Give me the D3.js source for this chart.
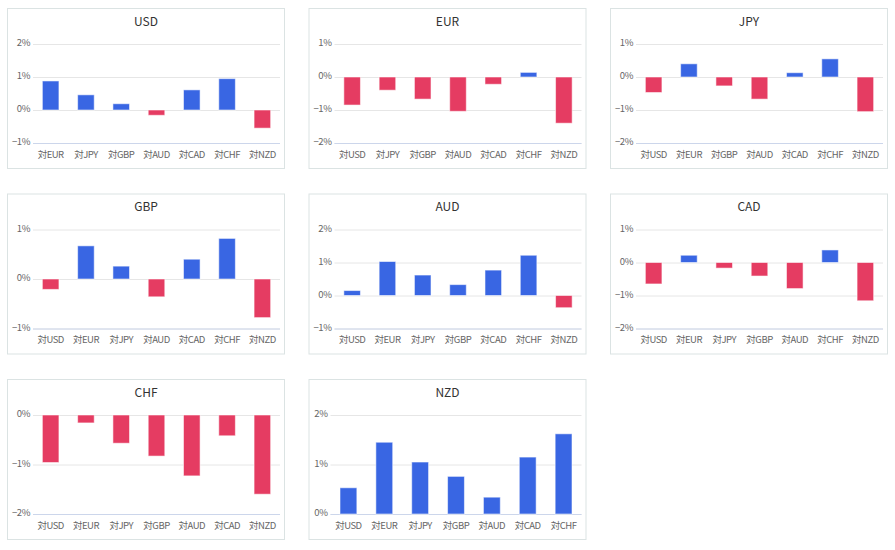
<!DOCTYPE html>
<html>
<head>
<meta charset="utf-8">
<script src="https://cdn.jsdelivr.net/npm/d3@7/dist/d3.min.js"></script>
<style>
  html, body { margin: 0; padding: 0; background: #fff; }
  svg { display: block; font-family: "Noto Sans CJK JP", "Noto Sans", sans-serif; }
</style>
</head>
<body>
<svg id="chart" width="895" height="550"></svg>
<script>
// ---- Data ----
const currencies = ["USD", "EUR", "JPY", "GBP", "AUD", "CAD", "CHF", "NZD"];
const catPrefix = "対";

const usdValues = [0.88, 0.46, 0.19, -0.16, 0.61, 0.95, -0.55];
const eurValues = [-0.85, -0.40, -0.67, -1.04, -0.22, 0.14, -1.40];
const jpyValues = [-0.47, 0.40, -0.27, -0.67, 0.13, 0.55, -1.05];
const gbpValues = [-0.21, 0.67, 0.26, -0.36, 0.40, 0.82, -0.78];
const audValues = [0.15, 1.03, 0.62, 0.33, 0.77, 1.22, -0.37];
const cadValues = [-0.65, 0.22, -0.17, -0.41, -0.79, 0.38, -1.16];
const chfValues = [-0.96, -0.16, -0.57, -0.83, -1.23, -0.42, -1.60];
const nzdValues = [0.53, 1.45, 1.05, 0.76, 0.34, 1.15, 1.62];

const usdTicks = [-1, 0, 1, 2];
const eurTicks = [-2, -1, 0, 1];
const jpyTicks = [-2, -1, 0, 1];
const gbpTicks = [-1, 0, 1];
const audTicks = [-1, 0, 1, 2];
const cadTicks = [-2, -1, 0, 1];
const chfTicks = [-2, -1, 0];
const nzdTicks = [0, 1, 2];

const valuesByCurrency = [usdValues, eurValues, jpyValues, gbpValues, audValues, cadValues, chfValues, nzdValues];
const ticksByCurrency = [usdTicks, eurTicks, jpyTicks, gbpTicks, audTicks, cadTicks, chfTicks, nzdTicks];

const positiveColor = "#3966e3";
const negativeColor = "#e53c62";

// ---- Layout ----
const svg = d3.select("#chart");
const panelW = 277, panelH = 160;
const colStep = 301.5, rowStep = 185.5;
const originX = 7, originY = 8;
const labelFont = "\"Noto Sans CJK JP\", \"Noto Sans\", sans-serif";

currencies.forEach((cur, i) => {
  const col = i % 3, row = Math.floor(i / 3);
  const px = originX + col * colStep;
  const py = originY + row * rowStep;
  const g = svg.append("g").attr("transform", `translate(${px},${py})`);

  g.append("rect")
    .attr("x", 0.5).attr("y", 0.5)
    .attr("width", panelW).attr("height", panelH)
    .attr("fill", "#fff")
    .attr("stroke", "#dbe3e3")
    .attr("stroke-width", 1);

  g.append("text")
    .attr("x", panelW / 2 + 0.5).attr("y", 17.5)
    .attr("text-anchor", "middle")
    .attr("font-size", 12)
    .attr("fill", "#333")
    .text(cur);

  const cats = currencies.filter(c => c !== cur).map(c => catPrefix + c);
  const vals = valuesByCurrency[i];
  const ticks = ticksByCurrency[i];
  const fmt = v => (v < 0 ? "\u2212" + Math.abs(v) : String(v)) + "%";

  const hasNeg = d3.min(ticks) < 0;
  const plotLeft = hasNeg ? 26 : 22;
  const plotRight = panelW - 4;
  const plotTop = 36, plotBottom = 135;

  const y = d3.scaleLinear()
    .domain([d3.min(ticks), d3.max(ticks)])
    .range([plotBottom, plotTop]);
  const x = d3.scaleBand()
    .domain(cats)
    .range([plotLeft, plotRight])
    .paddingInner(0.53)
    .paddingOuter(0.265);

  // gridlines + y labels
  const yAxis = d3.axisLeft(y).tickValues(ticks).tickSize(-(plotRight - plotLeft)).tickFormat(fmt).tickPadding(3);
  const ya = g.append("g").attr("transform", `translate(${plotLeft},0)`).call(yAxis);
  ya.select(".domain").remove();
  ya.selectAll(".tick line").attr("stroke", "#e6e6e6");
  ya.selectAll(".tick text")
    .attr("font-size", 9.5)
    .attr("fill", "#666")
    .attr("font-family", labelFont)
    .attr("letter-spacing", "-0.4px")
    .attr("dy", "0.2em");

  // x axis
  const xAxis = d3.axisBottom(x).tickSize(0).tickPadding(8);
  const xa = g.append("g").attr("transform", `translate(0,${plotBottom})`).call(xAxis);
  xa.select(".domain").attr("stroke", "#ccd6eb").attr("d", `M${plotLeft},0.5H${plotRight}`);
  xa.selectAll(".tick text")
    .attr("font-size", 9.5)
    .attr("fill", "#666")
    .attr("font-family", labelFont)
    .attr("letter-spacing", "-0.5px");

  // bars
  g.append("g").selectAll("rect")
    .data(vals.map((v, k) => ({ cat: cats[k], v })))
    .join("rect")
    .attr("x", d => x(d.cat))
    .attr("width", x.bandwidth())
    .attr("y", d => Math.min(y(d.v), y(0)))
    .attr("height", d => Math.abs(y(d.v) - y(0)))
    .attr("fill", d => d.v >= 0 ? positiveColor : negativeColor)
    .attr("stroke", "rgba(255,255,255,0.55)")
    .attr("stroke-width", 1);
});
</script>
</body>
</html>
